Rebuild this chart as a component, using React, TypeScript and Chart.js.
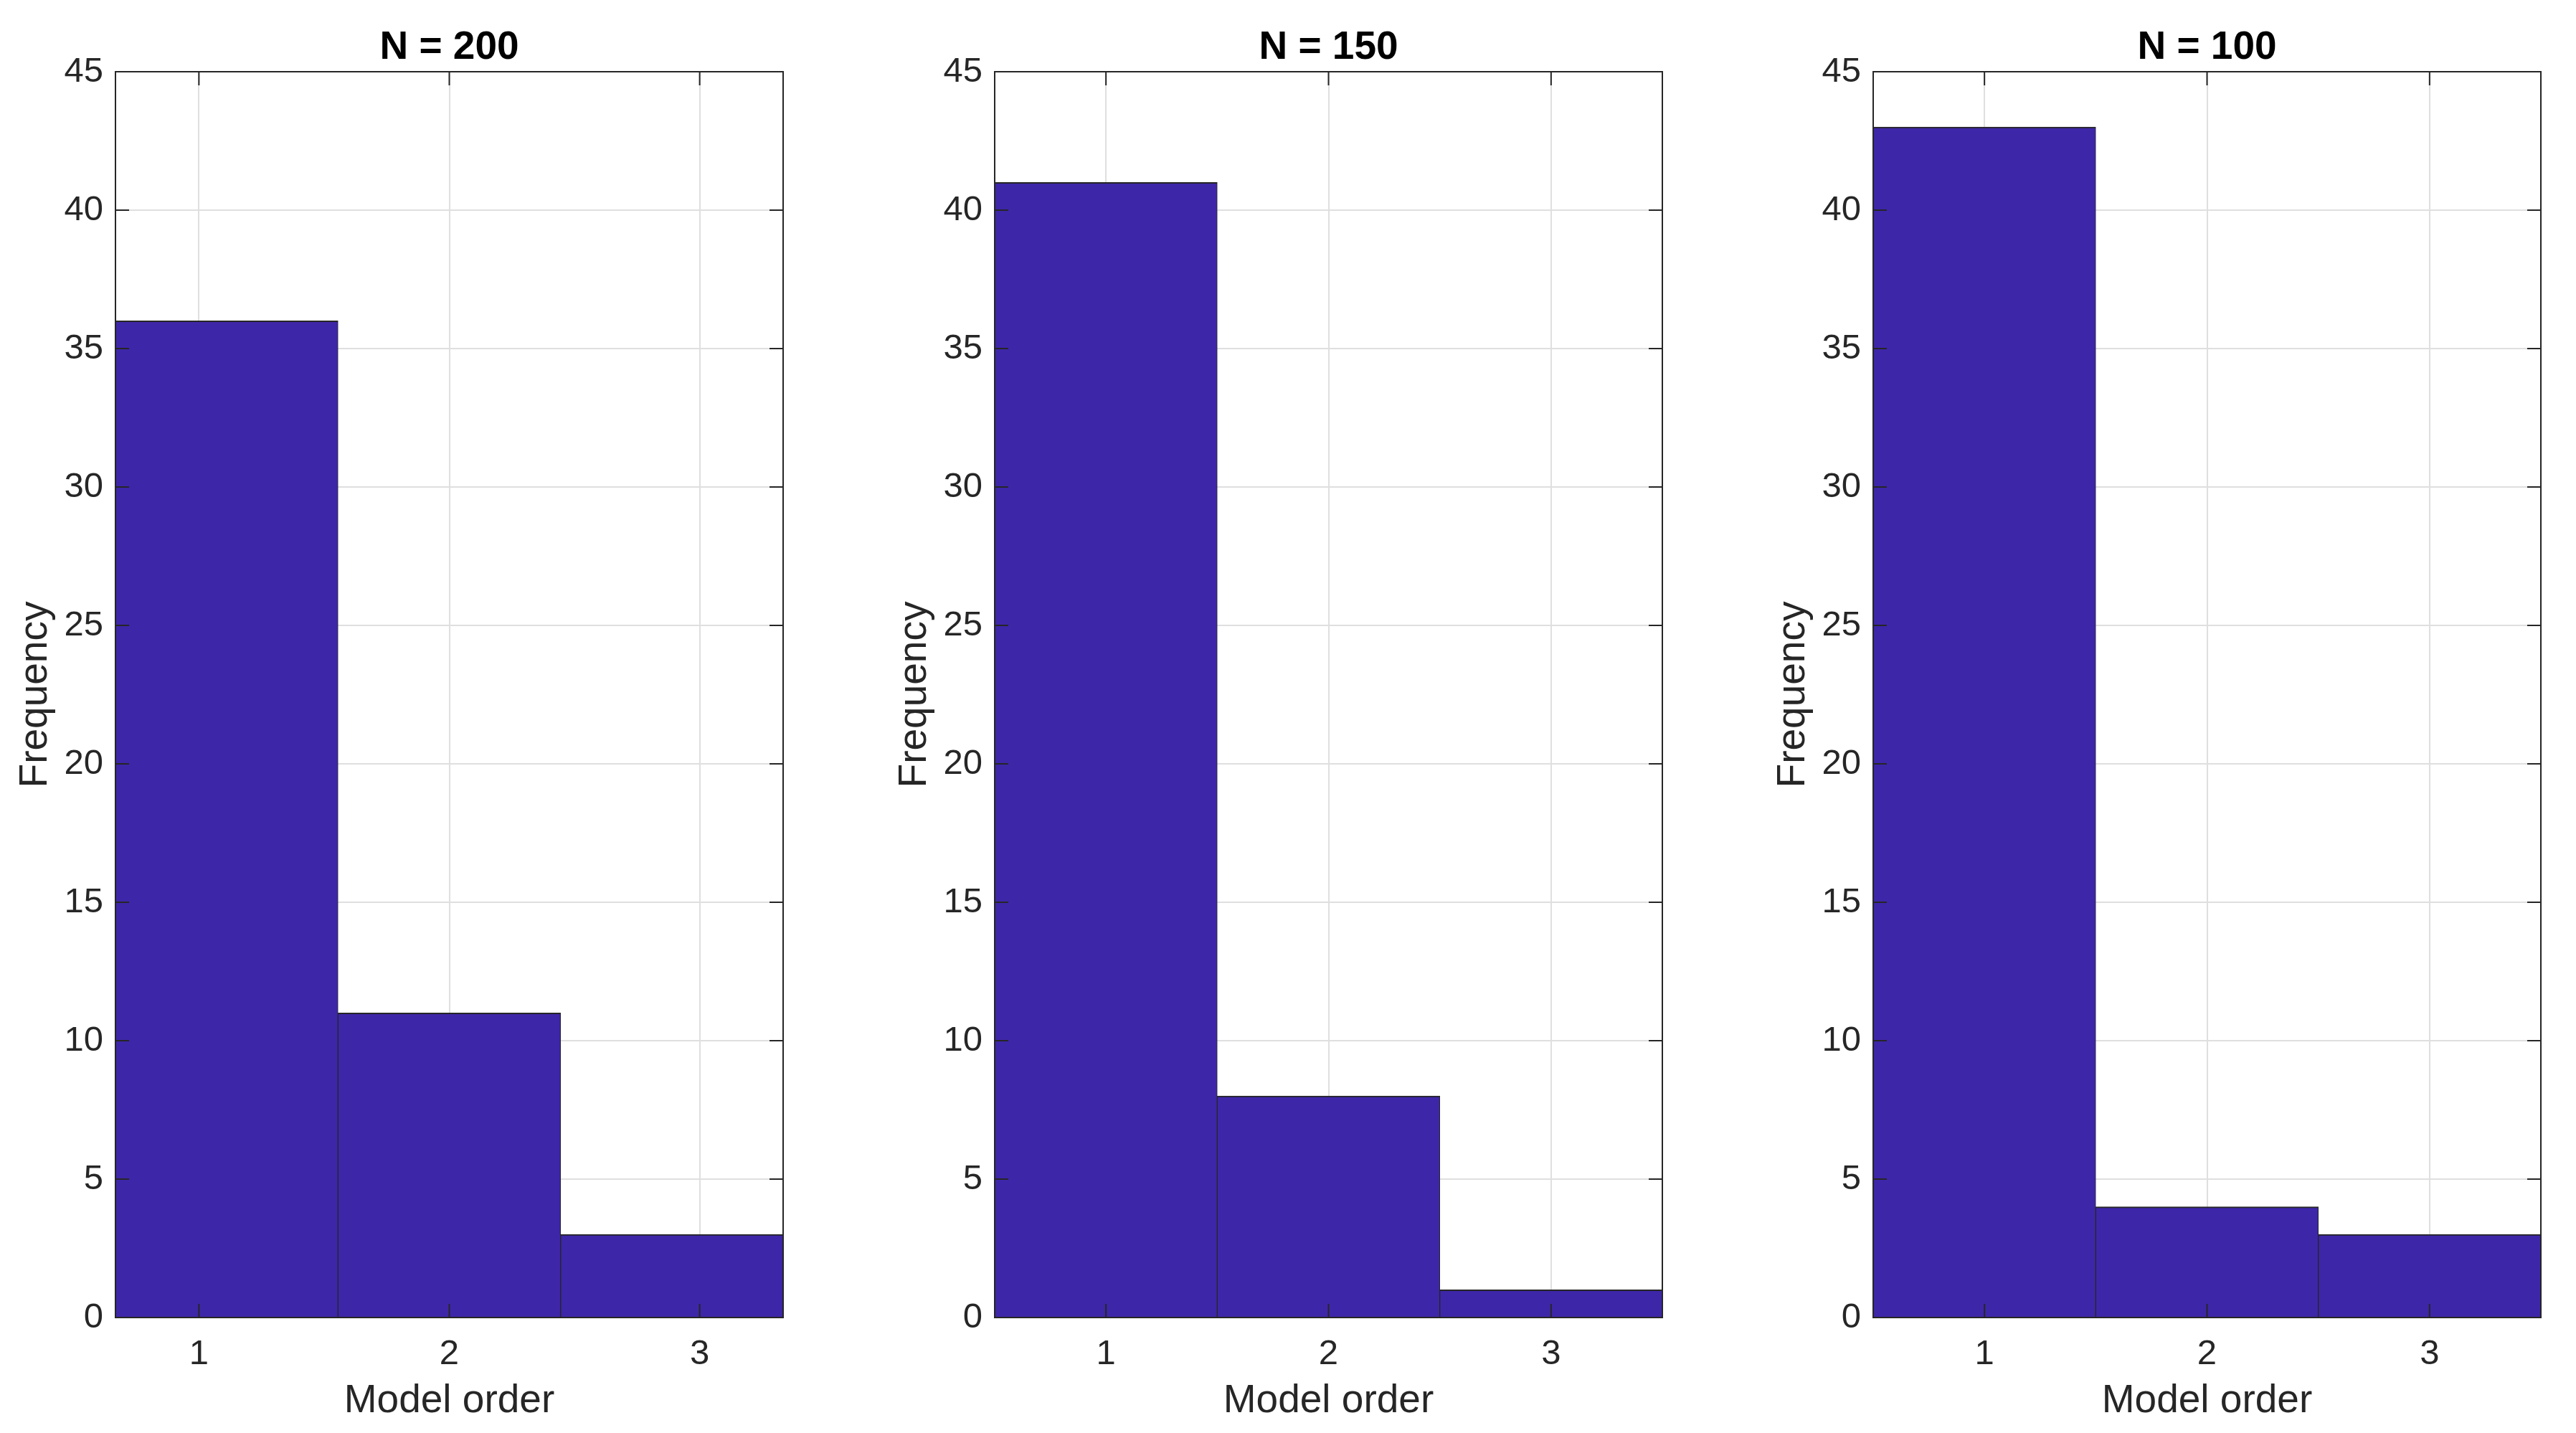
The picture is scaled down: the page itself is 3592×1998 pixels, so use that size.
import React, { useEffect, useRef } from "react";
import { Chart, registerables } from "chart.js";

Chart.register(...registerables);

// ---------------- data ----------------
const panelTitles = ["N = 200", "N = 150", "N = 100"];

// histogram bin centres (N = 200 uses 3 bins of width 8/9 between 2/3 and 10/3)
const binCenters200 = [10 / 9, 2, 26 / 9];
const binCenters150 = [1, 2, 3];
const binCenters100 = [1, 2, 3];

// frequencies per bin
const freq200 = [36, 11, 3];
const freq150 = [41, 8, 1];
const freq100 = [43, 4, 3];

// x-axis limits per panel
const xLimits200 = [2 / 3, 10 / 3];
const xLimits150 = [0.5, 3.5];
const xLimits100 = [0.5, 3.5];

const xTickValues = [1, 2, 3];
const yTickMin = 0;
const yTickMax = 45;
const yTickStep = 5;

const xAxisLabel = "Model order";
const yAxisLabel = "Frequency";

// ---------------- style ----------------
const FONT = "'Liberation Sans', Arial, Helvetica, sans-serif";
const AXIS_COLOR = "#262626";
const GRID_COLOR = "#dfdfdf";
const BAR_COLOR = "rgb(62, 38, 168)";

const PANEL_LEFTS = [161, 1387, 2612];
const Y_AXIS_W = 160;
const PLOT_W = 931;
const RIGHT_PAD = 9;
const CANVAS_W = Y_AXIS_W + PLOT_W + RIGHT_PAD;
const CANVAS_H = 1998;
const X_AXIS_H = 161;
const TICK_LEN = 19;

const framePlugin = {
  id: "matlabFrame",
  afterDatasetsDraw(chart: any) {
    const { ctx, chartArea } = chart;
    const { left, right, top, bottom } = chartArea;
    const xs = chart.scales.x;
    const ys = chart.scales.y;
    ctx.save();
    ctx.strokeStyle = AXIS_COLOR;
    ctx.lineWidth = 2;
    ctx.beginPath();
    for (const v of xTickValues) {
      const px = xs.getPixelForValue(v);
      ctx.moveTo(px, bottom);
      ctx.lineTo(px, bottom - TICK_LEN);
      ctx.moveTo(px, top);
      ctx.lineTo(px, top + TICK_LEN);
    }
    for (let v = yTickMin; v <= yTickMax; v += yTickStep) {
      const py = ys.getPixelForValue(v);
      ctx.moveTo(left, py);
      ctx.lineTo(left + TICK_LEN, py);
      ctx.moveTo(right, py);
      ctx.lineTo(right - TICK_LEN, py);
    }
    ctx.stroke();
    ctx.strokeRect(left, top, right - left, bottom - top);
    ctx.restore();
  },
};

type PanelProps = {
  title: string;
  centers: number[];
  values: number[];
  xLimits: number[];
  left: number;
};

function Panel({ title, centers, values, xLimits, left }: PanelProps) {
  const ref = useRef<HTMLCanvasElement | null>(null);

  useEffect(() => {
    if (!ref.current) return;
    const chart = new Chart(ref.current, {
      type: "bar",
      data: {
        datasets: [
          {
            data: centers.map((c, i) => ({ x: c, y: values[i] })),
            backgroundColor: BAR_COLOR,
            borderColor: AXIS_COLOR,
            borderWidth: { top: 2, left: 1, right: 1, bottom: 0 },
            barPercentage: 1,
            categoryPercentage: 1,
          } as any,
        ],
      },
      options: {
        responsive: false,
        maintainAspectRatio: false,
        animation: false,
        devicePixelRatio: 1,
        layout: { padding: { left: 0, right: RIGHT_PAD, top: 0, bottom: 0 } },
        plugins: {
          legend: { display: false },
          tooltip: { enabled: false },
          title: {
            display: true,
            text: title,
            fullSize: false,
            color: "#000000",
            font: { family: FONT, size: 55, weight: "bold", lineHeight: 1.2 },
            padding: { top: 34, bottom: 0 },
          },
        },
        scales: {
          x: {
            type: "linear",
            min: xLimits[0],
            max: xLimits[1],
            offset: false,
            afterBuildTicks: (s: any) => {
              s.ticks = xTickValues.map((v) => ({ value: v }));
            },
            afterFit: (s: any) => {
              s.height = X_AXIS_H;
            },
            grid: { color: GRID_COLOR, lineWidth: 2, drawTicks: false, offset: false },
            border: { display: false },
            ticks: {
              color: AXIS_COLOR,
              font: { family: FONT, size: 49, lineHeight: 1.2 },
              padding: 22,
              maxRotation: 0,
              minRotation: 0,
              autoSkip: false,
              callback: (v: any) => String(v),
            },
            title: {
              display: true,
              text: xAxisLabel,
              color: AXIS_COLOR,
              font: { family: FONT, size: 55, lineHeight: 1.2 },
              padding: { top: 0, bottom: 11 },
            },
          },
          y: {
            type: "linear",
            min: yTickMin,
            max: yTickMax,
            afterFit: (s: any) => {
              s.width = Y_AXIS_W;
            },
            grid: { color: GRID_COLOR, lineWidth: 2, drawTicks: false },
            border: { display: false },
            ticks: {
              stepSize: yTickStep,
              color: AXIS_COLOR,
              font: { family: FONT, size: 49, lineHeight: 1.2 },
              padding: 17,
            },
            title: {
              display: true,
              text: yAxisLabel,
              color: AXIS_COLOR,
              font: { family: FONT, size: 55, lineHeight: 1.2 },
              padding: { top: 16, bottom: 0 },
            },
          },
        },
      } as any,
      plugins: [framePlugin],
    });
    return () => chart.destroy();
  }, [title, centers, values, xLimits]);

  return (
    <canvas
      ref={ref}
      width={CANVAS_W}
      height={CANVAS_H}
      style={{
        position: "absolute",
        left: left - Y_AXIS_W,
        top: 0,
        width: CANVAS_W,
        height: CANVAS_H,
      }}
    />
  );
}

export default function App() {
  return (
    <div
      style={{
        position: "fixed",
        left: 0,
        top: 0,
        width: 3592,
        height: 1998,
        background: "#ffffff",
        overflow: "hidden",
      }}
    >
      <Panel title={panelTitles[0]} centers={binCenters200} values={freq200} xLimits={xLimits200} left={PANEL_LEFTS[0]} />
      <Panel title={panelTitles[1]} centers={binCenters150} values={freq150} xLimits={xLimits150} left={PANEL_LEFTS[1]} />
      <Panel title={panelTitles[2]} centers={binCenters100} values={freq100} xLimits={xLimits100} left={PANEL_LEFTS[2]} />
    </div>
  );
}
